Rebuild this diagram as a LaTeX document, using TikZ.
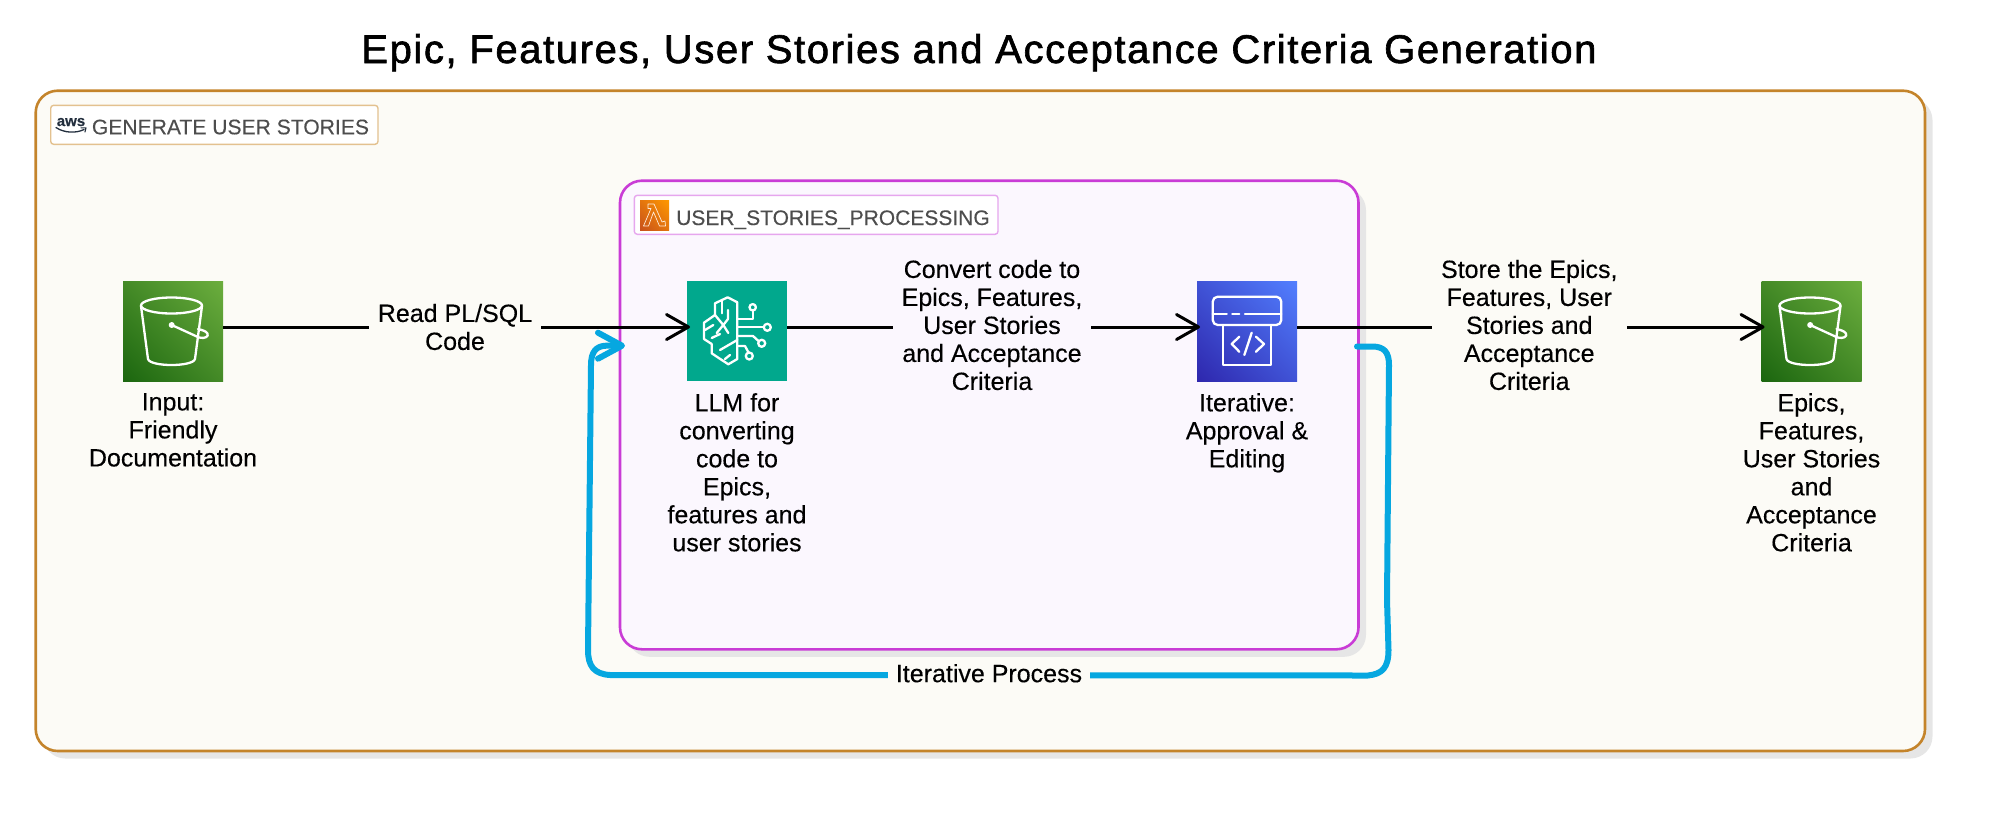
\documentclass[tikz,border=0pt]{standalone}
\usepackage{fontspec}
\setmainfont[FakeBold=0.25]{Liberation Sans}
\newfontfamily\titlefont[FakeBold=1.6,LetterSpace=4]{Liberation Sans}
\usetikzlibrary{arrows.meta,shadows,shadings}
\definecolor{outerfill}{HTML}{FCFBF6}
\definecolor{outerline}{HTML}{C4842B}
\definecolor{procfill}{HTML}{FBF7FE}
\definecolor{procline}{HTML}{C93CD6}
\definecolor{shadowgrey}{HTML}{E6E6E6}
\definecolor{outerbadge}{HTML}{E3C18F}
\definecolor{procbadge}{HTML}{E6A6EE}
\definecolor{badgetext}{HTML}{4D4D4D}
\definecolor{loopblue}{HTML}{06A7E0}
\definecolor{awsink}{HTML}{232F3E}
\definecolor{llmgreen}{HTML}{01A88D}
\definecolor{gA}{HTML}{1B660F}\definecolor{gB}{HTML}{6CAE3E}\definecolor{gM}{HTML}{448A27}
\definecolor{bA}{HTML}{2E27AD}\definecolor{bB}{HTML}{527FFF}\definecolor{bM}{HTML}{4053D6}
\definecolor{oA}{HTML}{C8511B}\definecolor{oB}{HTML}{FF9900}\definecolor{oM}{HTML}{E4750D}
\tikzset{
  x=1pt,y=-1pt,
  container/.style={draw,rounded corners=22pt,inner sep=0pt,outer sep=0pt,
    drop shadow={shadow xshift=7.5pt,shadow yshift=-7.5pt,fill=shadowgrey,opacity=1}},
  badge/.style={draw,fill=white,rounded corners=3pt,line width=1.4pt,inner sep=0pt,minimum height=39pt},
  badgelabel/.style={anchor=base west,inner sep=0pt,text=badgetext},
  iconbox/.style={minimum size=100pt,inner sep=0pt,outer sep=0pt},
  bucketfill/.style={shade,lower left=gA,upper right=gB,upper left=gM,lower right=gM},
  codefill/.style={shade,lower left=bA,upper right=bB,upper left=bM,lower right=bM},
  glyph/.style={draw=white,line width=2.3pt,line join=round,line cap=round},
  txt/.style={align=center,inner sep=0pt,font=\fontsize{25}{28}\selectfont},
  caption/.style={txt,anchor=north},
  edgelabel/.style={txt,inner xsep=9pt,inner ysep=0pt},
  flow/.style={draw=black,line width=3pt,-{Straight Barb[length=22pt,width=25pt,line width=3pt,round,sep=-3pt]}},
  loopline/.style={draw=loopblue,line width=6pt,line join=round,line cap=round,
    -{Straight Barb[length=24pt,width=26pt,line width=6pt,round,sep=-3pt]}}
}
\newcommand{\bucketglyph}{%
  \draw[glyph] (48.5,24.5) ellipse [x radius=30.5,y radius=8];
  \draw[glyph] (18,25) -- (25,78) .. controls (27,86) and (70,86) .. (72,78) -- (79,25);
  \fill[white] (48.7,44) circle (3);
  \draw[glyph] (48.7,44) -- (76,56.5) .. controls (82,58) and (86,55.5) .. (84.5,52.5) .. controls (83,50) and (79,49) .. (75,48);
}
\newcommand{\brainglyph}{%
  \draw[glyph] (40.7,16.3) -- (28,22.3) -- (28,34) -- (17,41.7) -- (17,58) -- (24.7,63) -- (24.7,72.3) -- (41.3,83.3) -- (50.3,78) -- (50.3,21.3) -- cycle;
  \draw[glyph] (34.7,20) -- (34.7,32.3);
  \draw[glyph] (28,34) -- (36.3,44) -- (29.7,52);
  \draw[glyph] (36.3,44) -- (41.3,52);
  \draw[glyph] (41,29) -- (41,38) -- (36.3,44);
  \draw[glyph] (26.3,44) -- (18,49);
  \draw[glyph] (50.3,59) -- (33,69);
  \draw[glyph] (24.7,57) -- (33,53);
  \draw[glyph] (38,78) -- (43,74);
  \draw[glyph] (50.3,38.3) -- (65.7,38.3) -- (65.7,29.7);
  \draw[glyph] (65.7,26.3) circle (3.2);
  \draw[glyph] (50.3,46.3) -- (76.8,46.3);
  \draw[glyph] (80.3,46.3) circle (3.5);
  \draw[glyph] (50.3,55) -- (66,55) -- (71.5,60);
  \draw[glyph] (74.7,62.3) circle (3.5);
  \draw[glyph] (50.3,65) -- (58,65) -- (61.5,71.5);
  \draw[glyph] (62.3,75) circle (3.5);
}
\newcommand{\codeglyph}{%
  \draw[glyph,rounded corners=5pt] (15.7,15.7) rectangle (84.3,44);
  \draw[glyph] (15.7,33) -- (29.7,33) (35.3,33) -- (42.3,33) (48,33) -- (84.3,33);
  \draw[glyph] (26.3,44) -- (26.3,84) -- (73.7,84) -- (73.7,44);
  \draw[glyph] (42.3,55.7) -- (34.7,63) -- (42.3,70.7);
  \draw[glyph] (54.7,51.7) -- (47.3,74);
  \draw[glyph] (59,55.7) -- (67,63) -- (59,70.7);
}
\begin{document}
\begin{tikzpicture}
\useasboundingbox (0,0) rectangle (1989,825);
% containers
\node[container,draw=outerline,fill=outerfill,line width=2.6pt,minimum width=1889.3pt,minimum height=660.3pt] (outer) at (980.35,420.85) {};
\node[container,draw=procline,fill=procfill,line width=2.6pt,minimum width=738.5pt,minimum height=468.6pt] (proc) at (989.25,415) {};
% title
\node[anchor=base,inner sep=0pt,font=\titlefont\fontsize{40}{44}\selectfont] (title) at (979,63) {Epic, Features, User Stories and Acceptance Criteria Generation};
% badges
\node[badge,draw=outerbadge,minimum width=327.3pt] (outerbadgebox) at (214.35,124.8) {};
\node[badge,draw=procbadge,minimum width=363.7pt] (procbadgebox) at (816.15,214.8) {};
\node[badgelabel,font=\fontsize{21.1}{24}\selectfont] (outertitle) at (91.7,134.3) {GENERATE USER STORIES};
\node[badgelabel,font=\fontsize{21}{24}\selectfont] (proctitle) at (676,225) {USER\_STORIES\_PROCESSING};
% aws logo
\node[anchor=base,inner sep=0pt,text=awsink,font=\bfseries\fontsize{15}{16}\selectfont] (awsword) at (71,126) {aws};
\draw[awsink,line width=1.3pt,line cap=round] (56,127.5) .. controls (64,133) and (76,133.5) .. (84,129.5);
\draw[awsink,line width=1.1pt,line cap=round,line join=round] (81,127.8) -- (86,127.8) -- (85,132);
% lambda icon
\node[minimum width=29pt,minimum height=30pt,inner sep=0pt,outer sep=0pt,shade,lower left=oA,upper right=oB,upper left=oM,lower right=oM] (lambda) at (654.5,215) {};
\begin{scope}[shift={(lambda.north west)}]
  \draw[white!85!orange,line width=0.7pt,line join=round] (8,4) -- (14,4) -- (22,22) -- (25,21) -- (25.5,26) -- (19.5,26) -- (13.5,12) -- (8.5,26) -- (3.5,26) -- (11,8.5) -- (8,8.5) -- cycle;
\end{scope}
% icons
\node[iconbox,bucketfill] (input) at (173,331) {};
\node[iconbox,fill=llmgreen] (llm) at (737,331) {};
\node[iconbox,codefill] (iter) at (1247,331) {};
\node[iconbox,bucketfill] (output) at (1811.5,331) {};
\begin{scope}[shift={(input.north west)}]\bucketglyph\end{scope}
\begin{scope}[shift={(llm.north west)}]\brainglyph\end{scope}
\begin{scope}[shift={(iter.north west)}]\codeglyph\end{scope}
\begin{scope}[shift={(output.north west)}]\bucketglyph\end{scope}
% captions
\node[caption] (inputcap) at ([yshift=-12pt]input.south) {Input:\\Friendly\\Documentation};
\node[caption] (llmcap) at ([yshift=-12pt]llm.south) {LLM for\\converting\\code to\\Epics,\\features and\\user stories};
\node[caption] (itercap) at ([yshift=-12pt]iter.south) {Iterative:\\Approval \&\\Editing};
\node[caption] (outputcap) at ([yshift=-12pt]output.south) {Epics,\\Features,\\User Stories\\and\\Acceptance\\Criteria};
% flows
\draw[flow] ([yshift=4pt]input.east) -- node[edgelabel,fill=outerfill] (readlabel) {Read PL/SQL\\Code} ([yshift=4pt]llm.west);
\draw[flow] ([yshift=4pt]llm.east) -- node[edgelabel,fill=procfill,yshift=2pt] (convlabel) {Convert code to\\Epics, Features,\\User Stories\\and Acceptance\\Criteria} ([yshift=4pt]iter.west);
\draw[flow] ([yshift=4pt]iter.east) -- node[edgelabel,fill=outerfill,yshift=2pt] (storelabel) {Store the Epics,\\Features, User\\Stories and\\Acceptance\\Criteria} ([yshift=4pt]output.west);
% feedback loop
\coordinate (loopstart) at (1357,346.5);
\coordinate (loopend) at (622,345.7);
\draw[loopline] (loopstart) -- (1372,346.5) .. controls (1384,346.5) and (1389,352) .. (1389,365) -- (1387,600) -- (1388.5,650)
  .. controls (1388.5,668) and (1382,674) .. (1368,675.5)
  -- node[txt,fill=outerfill,inner xsep=8pt,inner ysep=2pt,yshift=2pt] (looplabel) {Iterative Process} (610,675)
  .. controls (594,674) and (588,666) .. (588,650) -- (591,365) .. controls (591,352) and (596,346) .. (606,345.7) -- (loopend);
\end{tikzpicture}
\end{document}
